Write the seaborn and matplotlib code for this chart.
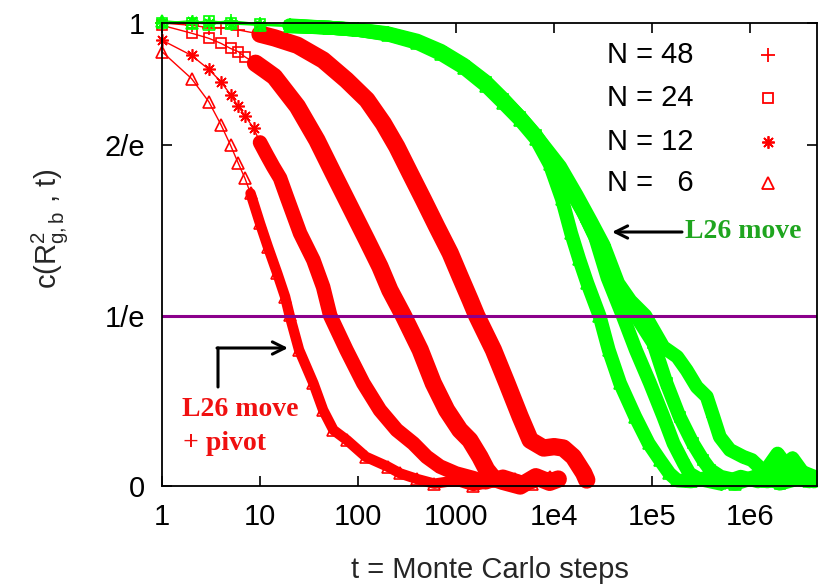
import matplotlib
matplotlib.use("Agg")
import numpy as np
import pandas as pd
import seaborn as sns
import matplotlib.pyplot as plt

# ---------------- data ----------------
x_ticks = [1, 10, 100, 1000, 1e4, 1e5, 1e6]
x_tick_labels = ["1", "10", "100", "1000", "1e4", "1e5", "1e6"]
y_ticks = [0, 1 / np.e, 2 / np.e, 1]
y_tick_labels = ["0", "1/e", "2/e", "1"]
legend_labels = ["N = 48", "N = 24", "N = 12", "N =   6"]
sizes = [48, 24, 12, 6]

# L26 move + pivot (red)
t_red6 = [1, 2, 3, 4, 5, 6, 7, 8, 10, 12, 15, 18, 20, 25, 35, 44, 56, 77, 120, 200, 270,
          400, 600, 1000, 1500, 2500, 4000, 6000, 9000, 11000]
c_red6 = [0.938, 0.88, 0.83, 0.78, 0.736, 0.697, 0.665, 0.632, 0.567, 0.517, 0.459, 0.409, 0.369,
          0.294, 0.222, 0.164, 0.121, 0.099, 0.063, 0.042, 0.027,
          0.015, 0.005, 0.012, 0.0, 0.01, 0.015, 0.005, 0.02, 0.012]

t_red12 = [1, 2, 3, 4, 5, 6, 7, 8.6, 10, 11.7, 13.6, 16, 18.7, 25.6, 35, 44, 52, 76, 113, 167,
           248, 366, 500, 685, 1000, 1500, 2000, 3000, 5000, 7000, 10000]
c_red12 = [0.963, 0.93, 0.90, 0.873, 0.845, 0.82, 0.80, 0.773, 0.742, 0.715, 0.69, 0.665, 0.625,
           0.546, 0.488, 0.43, 0.368, 0.294, 0.222, 0.164, 0.121, 0.092, 0.063, 0.042, 0.027,
           0.017, 0.008, 0.02, 0.005, 0.015, 0.01]

t_red24 = [1, 2, 3, 4, 5, 6, 7, 9, 11, 14, 24, 38, 56, 83, 123, 167, 211, 290, 430, 585, 800,
           1090, 1380, 1750, 2050, 2400, 3000, 4500, 6500, 9000, 11000]
c_red24 = [0.995, 0.978, 0.967, 0.956, 0.945, 0.938, 0.927, 0.913, 0.90, 0.884, 0.82, 0.747,
           0.675, 0.603, 0.531, 0.474, 0.423, 0.368, 0.294, 0.222, 0.164, 0.121, 0.099, 0.063,
           0.035, 0.017, 0.01, 0.0, 0.02, 0.008, 0.015]

t_red48 = [1, 2, 3, 4, 6, 10, 14, 24, 44, 76, 123, 181, 248, 340, 465, 635, 870, 1100, 1390,
           1620, 2400, 3300, 4500, 5700, 7800, 10000, 12400, 15700, 20000, 21500]
c_red48 = [1.0, 0.995, 0.99, 0.99, 0.985, 0.976, 0.968, 0.952, 0.92, 0.877, 0.834, 0.783, 0.733,
           0.675, 0.618, 0.56, 0.503, 0.452, 0.402, 0.368, 0.294, 0.222, 0.15, 0.099, 0.082,
           0.085, 0.082, 0.063, 0.028, 0.013]

# L26 move only (green)
t_grn6 = [1, 2, 3, 5, 10, 20, 50, 100, 200, 400, 700, 1200, 2000, 3000, 4500, 6500, 9000,
          12000, 14900, 18000, 21800, 29000, 36000, 47000, 67000, 92000, 120000, 150000,
          180000, 250000, 400000, 700000, 1e6, 1.5e6, 2.7e6, 4e6]
c_grn6 = [1.005, 1.0, 0.998, 1.0, 0.996, 0.993, 0.99, 0.985, 0.975, 0.957, 0.933, 0.903, 0.865,
          0.828, 0.79, 0.75, 0.695, 0.62, 0.546, 0.49, 0.438, 0.368, 0.294, 0.222, 0.15,
          0.092, 0.056, 0.027, 0.012, 0.01, 0.02, 0.005, 0.015, 0.01, 0.06, 0.01]

t_grn12 = [1, 2, 3, 5, 10, 20, 50, 100, 200, 400, 700, 1200, 2000, 3000, 4500, 6500, 10000,
           14500, 20000, 26000, 35000, 50000, 68000, 95000, 130000, 165000, 210000, 240000,
           300000, 500000, 800000, 1.2e6, 1.9e6, 3e6, 4.5e6]
c_grn12 = [1.0, 1.005, 1.0, 0.998, 0.995, 0.993, 0.99, 0.985, 0.976, 0.959, 0.936, 0.906,
           0.869, 0.832, 0.793, 0.755, 0.695, 0.64, 0.59, 0.54, 0.45, 0.368, 0.294, 0.222, 0.15,
           0.092, 0.049, 0.027, 0.015, 0.005, 0.02, 0.01, 0.07, 0.015, 0.02]

t_grn24 = [1, 2, 3, 5, 10, 20, 50, 100, 200, 400, 700, 1200, 2000, 3000, 4500, 6500, 10000,
           15000, 21000, 28000, 38000, 50000, 68000, 103000, 140000, 190000, 260000, 330000,
           390000, 500000, 800000, 1.3e6, 2e6, 3e6, 4.5e6]
c_grn24 = [1.0, 1.0, 1.005, 1.0, 0.997, 0.994, 0.99, 0.985, 0.977, 0.96, 0.937, 0.908, 0.872,
           0.835, 0.797, 0.758, 0.70, 0.64, 0.58, 0.525, 0.462, 0.415, 0.368, 0.308, 0.222,
           0.15, 0.092, 0.056, 0.035, 0.02, 0.01, 0.025, 0.005, 0.015, 0.01]

t_grn48 = [1, 2, 3, 5, 10, 20, 50, 100, 200, 400, 700, 1200, 2000, 3000, 4500, 6500, 11500,
           17000, 24000, 32000, 45000, 60000, 85000, 130000, 180000, 225000, 285000, 360000,
           420000, 490000, 620000, 850000, 1.04e6, 1.4e6, 2e6, 3e6, 4.5e6]
c_grn48 = [1.0, 1.0, 1.0, 1.005, 0.998, 0.995, 0.99, 0.986, 0.978, 0.962, 0.94, 0.91, 0.874,
           0.837, 0.797, 0.757, 0.69, 0.628, 0.57, 0.52, 0.438, 0.40, 0.368, 0.30, 0.279, 0.25,
           0.214, 0.193, 0.15, 0.106, 0.078, 0.063, 0.056, 0.03, 0.02, 0.035, 0.02]

red_series = {48: (t_red48, c_red48), 24: (t_red24, c_red24), 12: (t_red12, c_red12), 6: (t_red6, c_red6)}
grn_series = {48: (t_grn48, c_grn48), 24: (t_grn24, c_grn24), 12: (t_grn12, c_grn12), 6: (t_grn6, c_grn6)}

# ---------------- styling ----------------
sns.set_theme(style="ticks")
plt.rcParams['font.family'] = ['Liberation Sans', 'DejaVu Sans']
plt.rcParams['mathtext.fontset'] = 'custom'
plt.rcParams['mathtext.rm'] = 'Liberation Sans'
plt.rcParams['mathtext.it'] = 'Liberation Sans:italic'
FS = 21

RED = "#ff0000"
GREEN = "#00ff00"
markers = {48: "+", 24: "s", 12: (8, 2, 0), 6: "^"}
msizes = {48: 10.0, 24: 7.5, 12: 9.0, 6: 8.0}
band_start_red = {48: 9, 24: 9, 12: 9, 6: 8}
band_lw_red = {48: 12.5, 24: 12.5, 12: 10.5, 6: 7.5}
band_start_grn = 20
band_lw_grn = 10.0

fig = plt.figure(figsize=(8.18, 5.85), dpi=100)
W, H = 818, 585
ax = fig.add_axes([162 / W, 1 - 486 / H, (817 - 162) / W, (486 - 23) / H])


def draw(t, c, color, n, tmin_band, band_lw, z):
    df = pd.DataFrame({"t": t, "c": c})
    sns.lineplot(data=df, x="t", y="c", ax=ax, color=color, linewidth=1.0,
                 marker=markers[n], markersize=msizes[n], markerfacecolor="none",
                 markeredgecolor=color, markeredgewidth=1.2, estimator=None, sort=False,
                 clip_on=False, zorder=z)
    band = df[df["t"] >= tmin_band]
    sns.lineplot(data=band, x="t", y="c", ax=ax, color=color, linewidth=band_lw,
                 estimator=None, sort=False, clip_on=False, zorder=z,
                 solid_capstyle="round", solid_joinstyle="round")


for n in sizes:
    t, c = red_series[n]
    draw(t, c, RED, n, band_start_red[n], band_lw_red[n], 3)
for n in sizes:
    t, c = grn_series[n]
    draw(t, c, GREEN, n, band_start_grn, band_lw_grn, 4)

ax.axhline(1 / np.e, color="#8b008b", lw=2.2, zorder=6)

ax.set_xscale("log")
ax.set_xlim(1, 4.8e6)
ax.set_ylim(0, 1)
ax.set_xticks(x_ticks)
ax.set_xticklabels(x_tick_labels)
ax.xaxis.set_minor_locator(matplotlib.ticker.NullLocator())
ax.set_yticks(y_ticks)
ax.set_yticklabels(y_tick_labels)
ax.tick_params(axis="both", which="major", direction="in", top=True, right=True,
               length=7, width=1.2, labelsize=FS, colors="black", pad=12)
for s in ax.spines.values():
    s.set_linewidth(1.3)
    s.set_color("black")
    s.set_zorder(7)

ax.set_xlabel("t = Monte Carlo steps", fontsize=FS)
ax.xaxis.set_label_coords((490 - 162) / 655, (486 - 556) / 463)
ax.set_ylabel(r"c(R$\mathregular{^2_{g,b}}$ , t)", fontsize=FS)
ax.yaxis.set_label_coords((50 - 162) / 655, (486 - 229) / 463)
ax.yaxis.label.set_va("center")

# legend (manual layout like the gnuplot key)
rows_y = [55, 98, 142, 183]
for lab, n, yy in zip(legend_labels, sizes, rows_y):
    ax.text((607 - 162) / 655, (486 - yy) / 463, lab, transform=ax.transAxes,
            fontsize=FS, ha="left", va="center", color="black", zorder=8)
    ax.plot([(768 - 162) / 655], [(486 - yy) / 463], transform=ax.transAxes,
            marker=markers[n], markersize=msizes[n], markerfacecolor="none",
            markeredgecolor=RED, markeredgewidth=1.3, ls="none", clip_on=False, zorder=8)

# annotations
fig.text(685 / W, 1 - 232 / H, "L26 move", fontsize=20, fontweight="bold",
         family="Liberation Serif", color="#1fa51f", ha="left", va="center")
ax.annotate("", xy=(612, H - 232), xytext=(682, H - 232), xycoords="figure pixels",
            textcoords="figure pixels",
            arrowprops=dict(arrowstyle="->", lw=2.2, color="black", mutation_scale=22,
                            shrinkA=0, shrinkB=0))

fig.text(182 / W, 1 - 410 / H, "L26 move", fontsize=20, fontweight="bold",
         family="Liberation Serif", color="#f01010", ha="left", va="center")
fig.text(183 / W, 1 - 443 / H, "+ pivot", fontsize=20, fontweight="bold",
         family="Liberation Serif", color="#f01010", ha="left", va="center")
ax.annotate("", xy=(218, H - 348), xytext=(218, H - 387), xycoords="figure pixels",
            textcoords="figure pixels",
            arrowprops=dict(arrowstyle="-", lw=2.2, color="black", shrinkA=0, shrinkB=0))
ax.annotate("", xy=(288, H - 348), xytext=(217, H - 348), xycoords="figure pixels",
            textcoords="figure pixels",
            arrowprops=dict(arrowstyle="->", lw=2.2, color="black", mutation_scale=22,
                            shrinkA=0, shrinkB=0))

fig.savefig("out.png", dpi=100, facecolor="white")
